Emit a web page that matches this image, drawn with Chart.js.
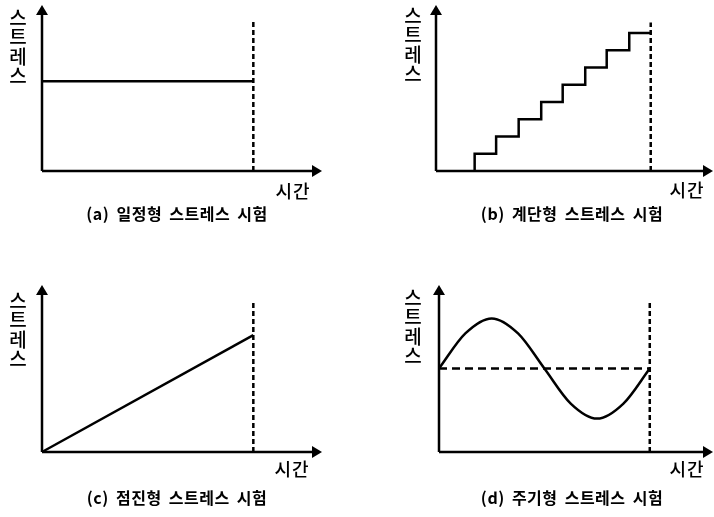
<!DOCTYPE html>
<html>
<head>
<meta charset="utf-8">
<script src="https://cdn.jsdelivr.net/npm/chart.js@4"></script>
<style>
  body { margin: 0; background: #fff; }
  #wrap { position: relative; width: 714px; height: 517px; overflow: hidden; }
  canvas { position: absolute; }
  .lbl { position: absolute; font-family: "Noto Sans CJK KR", sans-serif; color: #000; white-space: nowrap; line-height: 1; }
  .ylab { writing-mode: vertical-lr; text-orientation: upright; font-size: 19px; letter-spacing: 0.5px; font-weight: 500; transform: translate(-50%, 0); }
  .xlab { font-size: 18px; font-weight: 500; transform: translate(-50%, -50%); letter-spacing: 1px; }
  .cap { font-size: 16px; font-weight: bold; letter-spacing: 0.5px; word-spacing: 3px; transform: translate(-50%, -50%); }
</style>
</head>
<body>
<div id="wrap">
  <canvas id="ca" width="357" height="258" style="left:0;top:0"></canvas>
  <canvas id="cb" width="357" height="258" style="left:357px;top:0"></canvas>
  <canvas id="cc" width="357" height="259" style="left:0;top:258px"></canvas>
  <canvas id="cd" width="357" height="259" style="left:357px;top:258px"></canvas>

  <div class="lbl ylab" style="left:18px;top:8px">스트레스</div>
  <div class="lbl ylab" style="left:413px;top:6px">스트레스</div>
  <div class="lbl ylab" style="left:18px;top:291px">스트레스</div>
  <div class="lbl ylab" style="left:413px;top:288px">스트레스</div>

  <div class="lbl xlab" style="left:293px;top:190px">시간</div>
  <div class="lbl xlab" style="left:687px;top:189px">시간</div>
  <div class="lbl xlab" style="left:292px;top:468px">시간</div>
  <div class="lbl xlab" style="left:687px;top:468px">시간</div>

  <div class="lbl cap" id="t0" style="left:177px;top:213px"></div>
  <div class="lbl cap" id="t1" style="left:572px;top:213px"></div>
  <div class="lbl cap" id="t2" style="left:177px;top:497px"></div>
  <div class="lbl cap" id="t3" style="left:572px;top:497px"></div>
</div>
<script>
const captions = ['(a) 일정형 스트레스 시험', '(b) 계단형 스트레스 시험', '(c) 점진형 스트레스 시험', '(d) 주기형 스트레스 시험'];

// (a) constant stress
const constTime = [0, 8];
const constStress = [5.4, 5.4];
// (b) step stress
const stepTime = [1.8, 2.8, 3.85, 4.9, 5.9, 6.95, 7.95, 9, 10];
const stepStress = [0, 1, 2, 3, 4, 5, 6, 7, 8];
// (c) progressive stress
const rampTime = [0, 8];
const rampStress = [0, 7];
// (d) cyclic stress
const cycTime = [0, 1, 2, 3, 4, 5, 6, 7, 8];
const cycStress = [5, 7.1, 8, 7.1, 5, 2.9, 2, 2.9, 5];
const cycMean = [5, 5];

// end of test (dashed vertical), per panel
const endTime = [8, 10, 8, 8];
const endTop = [9.1, 8.6, 9.0, 9.0];

captions.forEach((c, i) => { document.getElementById('t' + i).textContent = c; });

const pts = (xs, ys) => xs.map((x, i) => ({ x: x, y: ys[i] }));

const arrowAxes = {
  id: 'arrowAxes',
  afterDatasetsDraw(chart) {
    const { ctx, chartArea: a } = chart;
    ctx.save();
    ctx.strokeStyle = '#000';
    ctx.fillStyle = '#000';
    ctx.lineWidth = 2.5;
    ctx.beginPath();
    ctx.moveTo(a.left, a.bottom);
    ctx.lineTo(a.right - 8, a.bottom);
    ctx.moveTo(a.left, a.bottom);
    ctx.lineTo(a.left, a.top + 8);
    ctx.stroke();
    ctx.beginPath();
    ctx.moveTo(a.right, a.bottom);
    ctx.lineTo(a.right - 10, a.bottom - 6);
    ctx.lineTo(a.right - 10, a.bottom + 6);
    ctx.closePath();
    ctx.fill();
    ctx.beginPath();
    ctx.moveTo(a.left, a.top);
    ctx.lineTo(a.left - 6, a.top + 10);
    ctx.lineTo(a.left + 6, a.top + 10);
    ctx.closePath();
    ctx.fill();
    ctx.restore();
  }
};

function solid(data, extra) {
  return Object.assign({ data: data, borderColor: '#000', borderWidth: 2.5, pointRadius: 0, fill: false, clip: false }, extra || {});
}
function dashed(data, dash) {
  return { data: data, borderColor: '#000', borderWidth: 2.5, borderDash: dash, pointRadius: 0, fill: false, clip: false };
}

function makeChart(id, pad, xMax, yMax, datasets) {
  return new Chart(document.getElementById(id), {
    type: 'line',
    data: { datasets: datasets },
    options: {
      responsive: false,
      animation: false,
      events: [],
      layout: { padding: pad },
      plugins: { legend: { display: false }, tooltip: { enabled: false } },
      scales: {
        x: { type: 'linear', min: 0, max: xMax, display: false },
        y: { type: 'linear', min: 0, max: yMax, display: false }
      }
    },
    plugins: [arrowAxes]
  });
}

makeChart('ca', { left: 42, top: 5, right: 35, bottom: 87 }, 10.6, 10, [
  solid(pts(constTime, constStress)),
  dashed(pts([endTime[0], endTime[0]], [0, endTop[0]]), [5, 3])
]);

makeChart('cb', { left: 79, top: 5, right: 1, bottom: 87 }, 12.9, 9.62, [
  solid(pts(stepTime, stepStress), { stepped: 'after' }),
  dashed(pts([endTime[1], endTime[1]], [0, endTop[1]]), [5, 3])
]);

makeChart('cc', { left: 42, top: 27, right: 35, bottom: 65 }, 10.6, 10, [
  solid(pts(rampTime, rampStress)),
  dashed(pts([endTime[2], endTime[2]], [0, endTop[2]]), [5, 3])
]);

makeChart('cd', { left: 82, top: 27, right: 1, bottom: 65 }, 10.4, 10, [
  solid(pts(cycTime, cycStress), { cubicInterpolationMode: 'monotone' }),
  dashed(pts([0, endTime[3]], cycMean), [8, 5]),
  dashed(pts([endTime[3], endTime[3]], [0, endTop[3]]), [5, 3])
]);
</script>
</body>
</html>
